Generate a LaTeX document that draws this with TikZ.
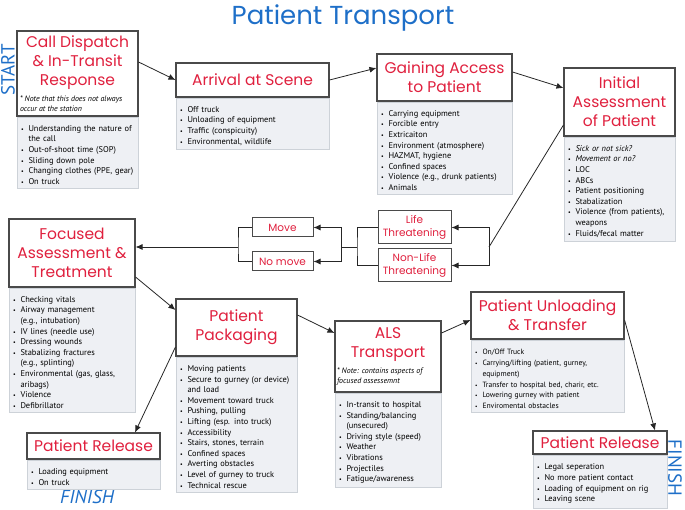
\documentclass[tikz,border=0pt]{standalone}
\usepackage{fontspec}
\setmainfont{PT Sans}
\newfontfamily\handfont{Poppins}
\usetikzlibrary{arrows.meta}
\definecolor{titlered}{HTML}{E0203E}
\definecolor{flowblue}{HTML}{1E6FC8}
\definecolor{listgray}{HTML}{EEF0F4}
\definecolor{listedge}{HTML}{CDD2D8}
\definecolor{headedge}{HTML}{4A4A4A}
\newlength{\bulletw}\setlength{\bulletw}{0.75em}
\newcommand{\bitem}{\par\hangindent=\bulletw\hangafter=1\noindent\makebox[\bulletw][l]{\scalebox{0.7}{\textbullet}}}
\newcommand{\notefont}{\rmfamily\itshape\fontsize{7.9}{9.8}\selectfont}
\tikzset{
  headbox/.style={draw=headedge, line width=1.1pt, fill=white, align=center, inner sep=2pt,
    font=\handfont\fontsize{15.5}{19}\selectfont, text=titlered},
  listbox/.style={draw=listedge, line width=0.5pt, fill=listgray, anchor=north,
    inner xsep=4pt, inner ysep=4pt, font=\fontsize{8.4}{10.6}\selectfont, align=left},
  tagbox/.style={draw=headedge, line width=1pt, fill=white, align=center, inner sep=1pt,
    font=\handfont\fontsize{10.5}{13}\selectfont, text=titlered, minimum width=61},
  flow/.style={draw=black!85, line width=0.8pt, -{Latex[length=7pt,width=6pt]}},
  link/.style={draw=black!85, line width=0.8pt},
  tag/.style={font=\fontsize{19}{19}\selectfont, text=flowblue, inner sep=0pt}
}
\begin{document}
\begin{tikzpicture}[x=1pt,y=-1pt]
\useasboundingbox (0,0) rectangle (685,510);

% heading and start / finish marks
\node[font=\handfont\fontsize{26}{30}\selectfont, text=flowblue] (heading) at (343,18) {Patient Transport};
\node[tag, rotate=90] (start) at (8,70) {START};
\node[tag, rotate=-90] (finishR) at (675,468) {FINISH};
\node[tag, font=\itshape\fontsize{19}{19}\selectfont] (finishL) at (87,497) {FINISH};

% top row
\node[headbox, minimum width=121, minimum height=85] (call) at (77.5,73.5)
  {Call Dispatch\\ \& In-Transit\\ Response\\[3pt]
   \parbox{115pt}{\color{black}\notefont\raggedright * Note that this does not always\\ occur at the station}};
\node[listbox, text width=113] (calllist) at (call.south)
  {\bitem Understanding the nature of\newline the call
   \bitem Out-of-shoot time (SOP)
   \bitem Sliding down pole
   \bitem Changing clothes (PPE, gear)
   \bitem On truck};

\node[headbox, minimum width=153, minimum height=34] (arrive) at (252.5,80) {Arrival at Scene};
\node[listbox, text width=145] (arrivelist) at (arrive.south)
  {\bitem Off truck
   \bitem Unloading of equipment
   \bitem Traffic (conspicuity)
   \bitem Environmental, wildlife};

\node[headbox, minimum width=135, minimum height=47] (access) at (444.5,77.5) {Gaining Access\\ to Patient};
\node[listbox, text width=127] (accesslist) at (access.south)
  {\bitem Carrying equipment
   \bitem Forcible entry
   \bitem Extricaiton
   \bitem Environment (atmosphere)
   \bitem HAZMAT, hygiene
   \bitem Confined spaces
   \bitem Violence (e.g., drunk patients)
   \bitem Animals};

\node[headbox, minimum width=111, minimum height=68] (initial) at (619.5,102) {Initial\\ Assessment\\ of Patient};
\node[listbox, text width=103] (initiallist) at (initial.south)
  {\bitem \textit{Sick or not sick?}
   \bitem \textit{Movement or no?}
   \bitem LOC
   \bitem ABCs
   \bitem Patient positioning
   \bitem Stabalization
   \bitem Violence (from patients),\newline weapons
   \bitem Fluids/fecal matter};

% middle row
\node[headbox, minimum width=126, minimum height=68] (focus) at (72,253) {Focused\\ Assessment \&\\ Treatment};
\node[listbox, text width=118] (focuslist) at (focus.south)
  {\bitem Checking vitals
   \bitem Airway management\newline (e.g., intubation)
   \bitem IV lines (needle use)
   \bitem Dressing wounds
   \bitem Stabalizing fractures\newline (e.g., splinting)
   \bitem Environmental (gas, glass,\newline aribags)
   \bitem Violence
   \bitem Defibrillator};

\node[tagbox, minimum height=19] (move) at (282.5,227.5) {Move};
\node[tagbox, minimum height=19] (nomove) at (282.5,261.5) {No move};
\node[tagbox, minimum width=73, minimum height=33] (life) at (414.5,227.5) {Life\\ Threatening};
\node[tagbox, minimum width=73, minimum height=33] (nonlife) at (414.5,265.5) {Non-Life\\ Threatening};

% bottom row
\node[headbox, minimum width=121, minimum height=57] (pack) at (236.5,327.5) {Patient\\ Packaging};
\node[listbox, text width=113] (packlist) at (pack.south)
  {\bitem Moving patients
   \bitem Secure to gurney (or device)\newline and load
   \bitem Movement toward truck
   \bitem Pushing, pulling
   \bitem Lifting (esp. into truck)
   \bitem Accessibility
   \bitem Stairs, stones, terrain
   \bitem Confined spaces
   \bitem Averting obstacles
   \bitem Level of gurney to truck
   \bitem Technical rescue};

\node[headbox, minimum width=106, minimum height=71] (als) at (388,356.5)
  {ALS\\ Transport\\[3pt]
   \parbox{102pt}{\color{black}\notefont\raggedright * Note: contains aspects of\\ focused assessemnt}};
\node[listbox, text width=98] (alslist) at (als.south)
  {\bitem In-transit to hospital
   \bitem Standing/balancing\newline (unsecured)
   \bitem Driving style (speed)
   \bitem Weather
   \bitem Vibrations
   \bitem Projectiles
   \bitem Fatigue/awareness};

\node[headbox, minimum width=153, minimum height=47] (unload) at (547.5,315.5) {Patient Unloading\\ \& Transfer};
\node[listbox, text width=145, font=\fontsize{7.6}{10.8}\selectfont] (unloadlist) at (unload.south)
  {\bitem On/Off Truck
   \bitem Carrying/lifting (patient, gurney,\newline equipment)
   \bitem Transfer to hospital bed, charir, etc.
   \bitem Lowering gurney with patient
   \bitem Enviromental obstacles};

\node[headbox, minimum width=134, minimum height=23] (relR) at (600,442.5) {Patient Release};
\node[listbox, text width=126, minimum height=53] (relRlist) at (relR.south)
  {\bitem Legal seperation
   \bitem No more patient contact
   \bitem Loading of equipment on rig
   \bitem Leaving scene};

\node[headbox, minimum width=133, minimum height=26] (relL) at (93.5,446) {Patient Release};
\node[listbox, text width=125] (relLlist) at (relL.south)
  {\bitem Loading equipment
   \bitem On truck};

% connectors
\draw[flow] ([yshift=11.5pt]call.east) -- (arrive.west);
\draw[flow] (arrive.east) -- ([yshift=9.5pt]access.west);
\draw[flow] ([yshift=5.5pt]access.east) -- ([yshift=14pt]initial.west);

\coordinate (lifefork) at (489,247);
\draw[link] ([yshift=-23pt]initial.west) -- (lifefork);
\draw[flow] (lifefork) |- (life.east);
\draw[flow] (lifefork) |- (nonlife.east);

\coordinate (lifejoin) at (357,247);
\coordinate (movefork) at (341,247);
\draw[link] (life.west) -| (lifejoin) |- (nonlife.west);
\draw[link] (lifejoin) -- (movefork);
\draw[flow] (movefork) |- (move.east);
\draw[flow] (movefork) |- (nomove.east);

\coordinate (movejoin) at (238,247);
\draw[link] (move.west) -| (movejoin) |- (nomove.west);
\draw[flow] (movejoin) -- (focus.east |- movejoin);

\draw[flow] ([yshift=-24pt]focus.east) -- ([yshift=17.5pt]pack.west);
\draw[flow] ([yshift=-19.5pt]pack.west) -- ([xshift=41.5pt]relL.north);
\draw[flow] ([yshift=12.5pt]pack.east) -- ([yshift=23.5pt]als.west);
\draw[flow] ([yshift=23.5pt]als.east) -- ([yshift=-4.5pt]unload.west);
\draw[flow] ([yshift=-4.5pt]unload.east) -- ([xshift=55pt]relR.north);
\end{tikzpicture}
\end{document}
